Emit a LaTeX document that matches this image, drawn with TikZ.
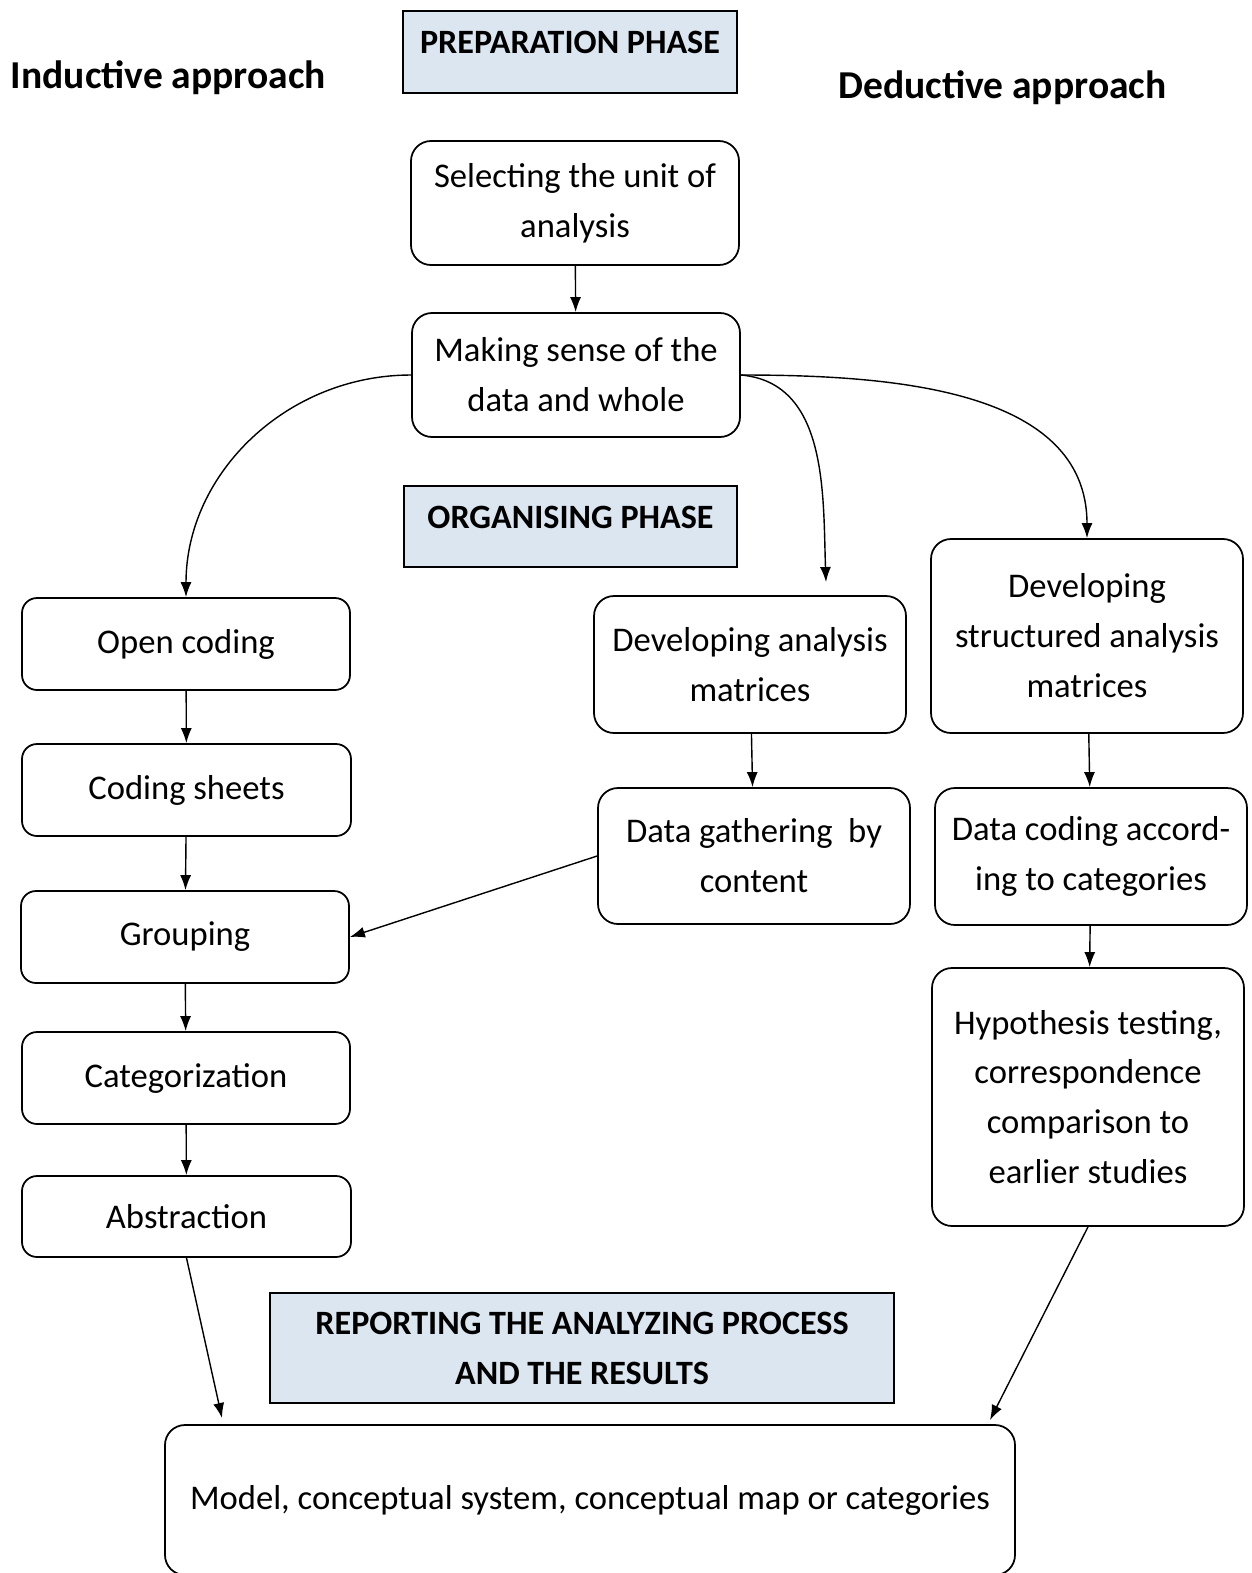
\documentclass[tikz,border=0pt]{standalone}
\usepackage{fontspec}
\setmainfont{Carlito}
\usepackage{tikz}
\usetikzlibrary{arrows.meta}

\definecolor{phaseblue}{HTML}{DCE6F1}

\begin{document}
\begin{tikzpicture}[every node/.style={black},
	box/.style={draw, line width=1pt, rounded corners=0.4cm, align=center, inner sep=0pt,
		font=\fontsize{19.7}{28.4}\selectfont},
	phase/.style={draw, line width=1pt, fill=phaseblue, align=center, inner sep=0pt,
		font=\fontsize{19.4}{28.4}\selectfont\bfseries},
	approach/.style={font=\fontsize{22.5}{26}\selectfont\bfseries}]
	\useasboundingbox (0,0) rectangle (25.04,-31.46);

	% headings
	\node[approach] (ind) at (3.37,-1.56) {Inductive approach};
	\node[approach] (ded) at (20.05,-1.76) {Deductive approach};
	\node[phase, minimum width=6.68cm, minimum height=1.64cm] (prep) at (11.4,-1.04) {};
	\node (preptxt) at (11.4,-0.84) {\fontsize{19.4}{22}\selectfont\bfseries PREPARATION PHASE};
	\node[phase, minimum width=6.66cm, minimum height=1.62cm] (org) at (11.41,-10.53) {};
	\node (orgtxt) at (11.41,-10.34) {\fontsize{19.4}{22}\selectfont\bfseries ORGANISING PHASE};
	\node[phase, minimum width=12.48cm, minimum height=2.2cm] (rep) at (11.64,-26.96)
		{REPORTING THE ANALYZING PROCESS\\AND THE RESULTS};

	% preparation
	\node[box, minimum width=6.56cm, minimum height=2.48cm] (sel) at (11.5,-4.06)
		{Selecting the unit of\\analysis};
	\node[box, minimum width=6.56cm, minimum height=2.48cm] (sense) at (11.52,-7.5)
		{Making sense of the\\data and whole};

	% inductive
	\node[box, rounded corners=0.3cm, minimum width=6.56cm, minimum height=1.84cm] (open) at (3.72,-12.88) {Open coding};
	\node[box, rounded corners=0.3cm, minimum width=6.58cm, minimum height=1.84cm] (sheets) at (3.73,-15.8) {Coding sheets};
	\node[box, rounded corners=0.3cm, minimum width=6.56cm, minimum height=1.84cm] (group) at (3.70,-18.74) {Grouping};
	\node[box, rounded corners=0.3cm, minimum width=6.56cm, minimum height=1.84cm] (categ) at (3.72,-21.56) {Categorization};
	\node[box, rounded corners=0.3cm, minimum width=6.58cm, minimum height=1.62cm] (abstr) at (3.73,-24.33) {Abstraction};

	% deductive
	\node[box, minimum width=6.24cm, minimum height=2.74cm] (devan) at (15.0,-13.29)
		{Developing analysis\\matrices};
	\node[box, minimum width=6.24cm, minimum height=2.72cm] (gather) at (15.08,-17.12)
		{Data gathering\ \ by\\content};
	\node[box, minimum width=6.24cm, minimum height=3.88cm] (devst) at (21.74,-12.72)
		{Developing\\structured analysis\\matrices};
	\node[box, minimum width=6.24cm, minimum height=2.74cm] (dcode) at (21.82,-17.13)
		{Data coding accord-\\ing to categories};
	\node[box, minimum width=6.24cm, minimum height=5.16cm] (hyp) at (21.76,-21.94)
		{Hypothesis testing,\\correspondence\\comparison to\\earlier studies};

	% result
	\node[box, minimum width=17cm, minimum height=3cm] (model) at (11.8,-30.0)
		{Model, conceptual system, conceptual map or categories};

	\coordinate (devtip) at (16.52,-11.64);
	\coordinate (modL) at (4.44,-28.36);
	\coordinate (modR) at (19.8,-28.4);

	\begin{scope}[-{Latex[length=0.3cm,width=0.22cm]}, line width=0.8pt]
		\draw (sel) -- (sense);
		\draw (sense.west) to[out=180, in=90] (open.north);
		\draw (sense.east) to[out=-5, in=92] (devtip);
		\draw (sense.east) to[out=0, in=90] (devst.north);
		\draw (open) -- (sheets);
		\draw (sheets) -- (group);
		\draw (group) -- (categ);
		\draw (categ) -- (abstr);
		\draw (devan) -- (gather);
		\draw (devst) -- (dcode);
		\draw (dcode) -- (hyp);
		\draw (gather.west) -- (group.east);
		\draw (abstr.south) -- (modL);
		\draw (hyp.south) -- (modR);
	\end{scope}
\end{tikzpicture}
\end{document}
